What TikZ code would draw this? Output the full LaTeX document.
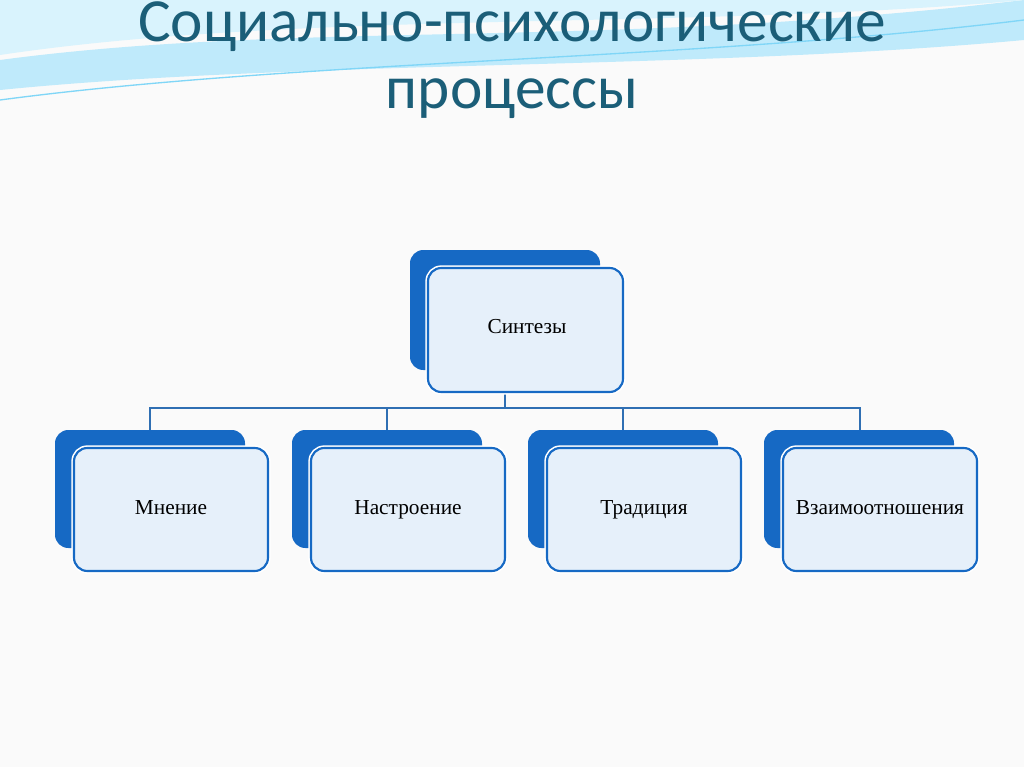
\documentclass[tikz,border=0pt]{standalone}
\usepackage{fontspec}
\setmainfont{Liberation Serif}
\newfontfamily\titlefont{Carlito}
\begin{document}
\begin{tikzpicture}[x=0.75pt,y=-0.75pt]
\definecolor{dk}{HTML}{1669C4}
\definecolor{lt}{HTML}{E6F0FA}
\definecolor{ttl}{HTML}{1B5E78}
\definecolor{ln}{HTML}{2F6FB3}
\tikzset{
 backbox/.style={fill=dk,rounded corners=10pt},
 frontbox/.style={fill=lt,draw=dk,line width=1.6pt,rounded corners=10pt},
 lbl/.style={font=\fontsize{16}{18}\selectfont,text=black,text height=11pt,text depth=3pt},
 conn/.style={draw=ln,line width=1.5pt}
}
\useasboundingbox (0,0) rectangle (1024,767);
\fill[black!2] (0,0) rectangle (1024,767);
% waves
\fill[cyan!25] (0,60) .. controls (300,20) and (600,50) .. (1024,0) -- (1024,40) .. controls (700,70) and (300,60) .. (0,90) -- cycle;
\fill[cyan!15] (0,0) -- (1024,0) .. controls (700,30) and (300,10) .. (0,55) -- cycle;
\draw[cyan!50,line width=1pt] (0,100) .. controls (300,60) and (700,60) .. (1024,20);
% title
\node[font=\titlefont\fontsize{46}{56}\selectfont,text=ttl] (t1) at (512,27) {Социально-психологические};
\node[font=\titlefont\fontsize{46}{56}\selectfont,text=ttl] (t2) at (512,99) {процессы};
% connectors
\coordinate (jt) at (505,408);
\draw[conn] (505,372) -- (jt);
\draw[conn] (150,430) -- (150,408) -- (860,408) -- (860,430);
\draw[conn] (387,408) -- (387,430);
\draw[conn] (623,408) -- (623,430);
% top
\fill[backbox] (410,250) rectangle (600,370);
\draw[white,line width=4pt,rounded corners=10pt] (428,268) rectangle (623,392);
\filldraw[frontbox] (428,268) rectangle (623,392);
\node[lbl] (s) at (527,328) {Синтезы};
% bottom
\foreach \x/\t/\n in {55/Мнение/a,292/Настроение/b,528/Традиция/c,764/Взаимоотношения/d}{
 \fill[backbox] (\x,430) rectangle (\x+190,548);
 \draw[white,line width=4pt,rounded corners=10pt] (\x+19,448) rectangle (\x+213,571);
 \filldraw[frontbox] (\x+19,448) rectangle (\x+213,571);
 \node[lbl] (\n) at (\x+116,509) {\t};
}
\end{tikzpicture}
\end{document}
